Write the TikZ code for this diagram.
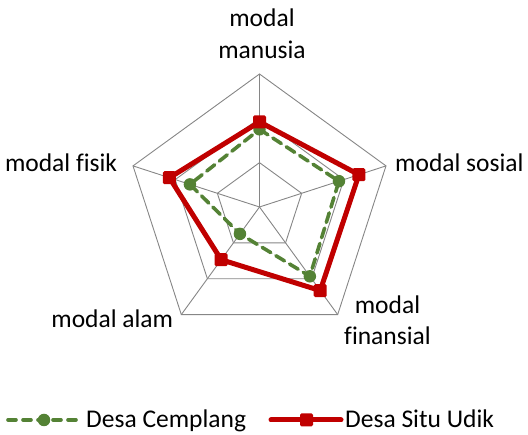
\documentclass[tikz,border=0pt]{standalone}
\usepackage{fontspec}
\setmainfont[Ligatures=NoCommon]{Carlito}
\usetikzlibrary{calc}
\definecolor{redS}{RGB}{192,0,0}
\definecolor{grnC}{RGB}{84,130,53}
\definecolor{gridg}{RGB}{134,134,134}
\begin{document}
\begin{tikzpicture}[x=1pt,y=1pt,
  gridline/.style={draw=gridg,line width=0.9pt,line join=miter},
  redline/.style={draw=redS,line width=5pt,line join=round},
  grnline/.style={draw=grnC,line width=3.6pt,dash pattern=on 10pt off 6pt,line cap=round,line join=round},
  redmark/.style={fill=redS,rounded corners=1.5pt,minimum size=13pt,inner sep=0pt,draw=none},
  grnmark/.style={fill=grnC,circle,minimum size=12.5pt,inner sep=0pt,draw=none},
  lbl/.style={font=\fontsize{25.5}{31.7}\selectfont,inner sep=0pt,text=black}]
\useasboundingbox (0,0) rectangle (528,435);
\coordinate (C) at (259.5,228);
% grid rings
\foreach \r in {44.33,88.67,133}{
  \draw[gridline] ($(C)+(90:\r)$) -- ($(C)+(18:\r)$) -- ($(C)+(-54:\r)$) -- ($(C)+(-126:\r)$) -- ($(C)+(162:\r)$) -- cycle;
}
\foreach \a/\n in {90/vm,18/vs,-54/vf,-126/va,162/vk}{
  \coordinate (\n) at ($(C)+(\a:133)$);
  \draw[gridline] (C) -- (\n);
}
% red series
\foreach \a/\v/\n in {90/0.64/r1,18/0.786/r2,-54/0.777/r3,-126/0.49/r4,162/0.712/r5}{
  \coordinate (\n) at ($(C)+(\a:133*\v)$);
}
% green series
\foreach \a/\v/\n in {90/0.584/g1,18/0.628/g2,-54/0.644/g3,-126/0.25/g4,162/0.55/g5}{
  \coordinate (\n) at ($(C)+(\a:133*\v)$);
}
\draw[grnline] (g1) -- (g2) -- (g3) -- (g4) -- (g5) -- cycle;
\foreach \n in {g1,g2,g3,g4,g5}{\node[grnmark] (m\n) at (\n) {};}
\draw[redline] (r1) -- (r2) -- (r3) -- (r4) -- (r5) -- cycle;
\foreach \n in {r1,r2,r3,r4,r5}{\node[redmark] (m\n) at (\n) {};}
% labels
\node[lbl,anchor=base,align=center] (lm) at (262,376.7) {modal\\manusia};
\node[lbl,anchor=base west] (ls) at (395,263.3) {modal sosial};
\node[lbl,anchor=base east] (lk) at (117.3,263.3) {modal fisik};
\node[lbl,anchor=base east] (la) at (173.3,107.7) {modal alam};
\node[lbl,anchor=base,align=center] (lf) at (387.5,90) {modal\\finansial};
% legend
\coordinate (ga) at (8,15);
\coordinate (gb) at (79,15);
\draw[grnline,dash pattern=on 8pt off 7pt] (ga) -- (gb);
\node[grnmark] (lgm) at (44,15) {};
\node[lbl,anchor=base west] (lgt) at (86,7) {Desa Cemplang};
\coordinate (ra) at (271,15);
\coordinate (rb) at (341,15);
\draw[redline,line cap=round] (ra) -- (rb);
\node[redmark] (lrm) at (306.5,15) {};
\node[lbl,anchor=base west] (lrt) at (345,7) {Desa Situ Udik};
\end{tikzpicture}
\end{document}
